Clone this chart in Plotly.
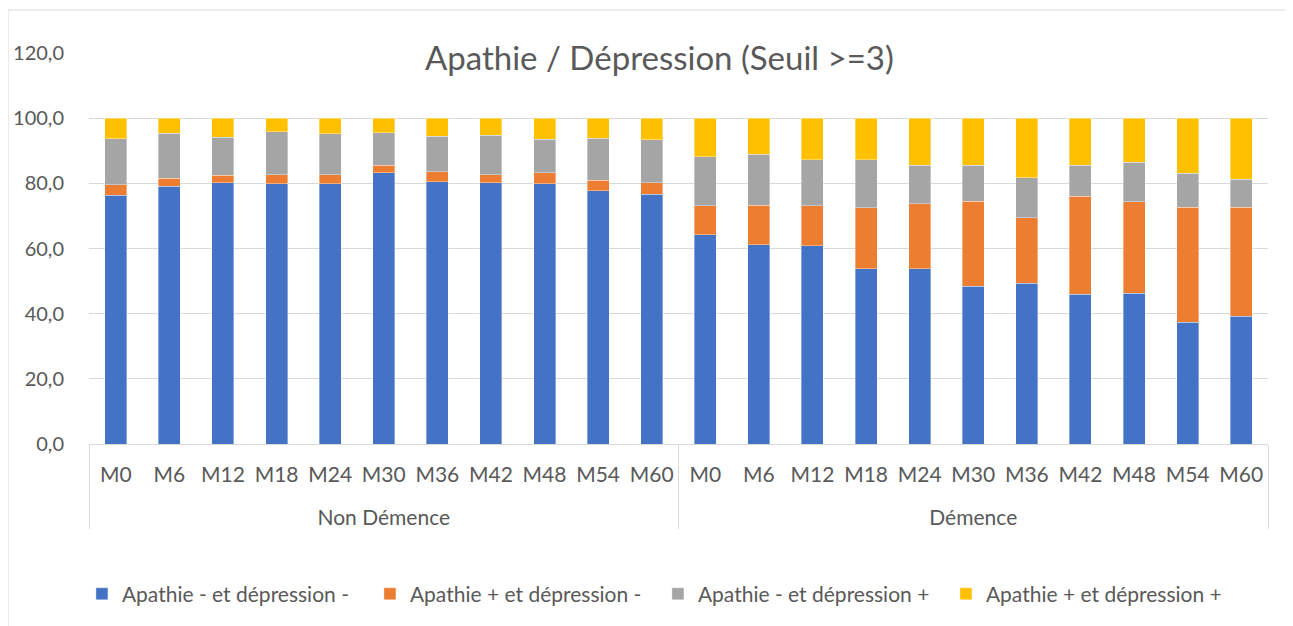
import plotly.graph_objects as go

groups = ["Non Démence"] * 11 + ["Démence"] * 11
months = ["M0", "M6", "M12", "M18", "M24", "M30", "M36", "M42", "M48", "M54", "M60"] * 2

series_names = [
    "Apathie - et dépression -",
    "Apathie + et dépression -",
    "Apathie - et dépression +",
    "Apathie + et dépression +",
]

apa_neg_dep_neg = [76.4, 79.1, 80.2, 79.8, 79.8, 83.2, 80.5, 80.2, 79.9, 77.8, 76.7,
                   64.2, 61.1, 60.8, 53.8, 53.8, 48.4, 49.4, 45.9, 46.2, 37.3, 39.2]
apa_pos_dep_neg = [3.1, 2.5, 2.3, 2.9, 2.9, 2.3, 3.0, 2.5, 3.3, 3.1, 3.5,
                   8.9, 12.2, 12.3, 18.7, 19.9, 26.1, 20.1, 30.2, 28.1, 35.4, 33.5]
apa_neg_dep_pos = [14.2, 13.8, 11.6, 13.2, 12.5, 10.1, 10.9, 12.1, 10.3, 13.0, 13.2,
                   15.0, 15.7, 14.1, 14.8, 11.8, 11.0, 12.2, 9.5, 12.2, 10.4, 8.5]
apa_pos_dep_pos = [6.3, 4.6, 5.9, 4.1, 4.8, 4.4, 5.6, 5.2, 6.5, 6.1, 6.6,
                   11.9, 11.0, 12.8, 12.7, 14.5, 14.5, 18.3, 14.4, 13.5, 16.9, 18.8]

colors = ["#4472C4", "#ED7D31", "#A5A5A5", "#FFC000"]
all_series = [apa_neg_dep_neg, apa_pos_dep_neg, apa_neg_dep_pos, apa_pos_dep_pos]

FONT = "Lato, 'Open Sans', sans-serif"
TXT = "#595959"

group_labels = ["<br>" + g for g in groups]

fig = go.Figure()
for name, vals, col in zip(series_names, all_series, colors):
    fig.add_trace(go.Bar(
        x=[group_labels, months], y=vals, name=name,
        marker=dict(color=col, line=dict(color="rgba(255,255,255,0.6)", width=0.6)),
    ))

fig.update_layout(
    barmode="stack",
    bargap=0.59,
    width=1293, height=626,
    margin=dict(l=81, r=33, t=45, b=190),
    paper_bgcolor="white", plot_bgcolor="white",
    separators=", ",
    font=dict(family=FONT, color=TXT, size=21),
    showlegend=True,
    legend=dict(orientation="h", x=-0.006, xanchor="left", y=-0.384, yanchor="middle",
                font=dict(size=21, color=TXT), entrywidth=243, entrywidthmode="pixels",
                traceorder="normal", itemwidth=30),
    annotations=[dict(text="Apathie / Dépression (Seuil >=3)", xref="paper", yref="paper",
                      x=0.484, y=0.99, xanchor="center", yanchor="middle", showarrow=False,
                      font=dict(size=33, color=TXT, family=FONT))],
    shapes=[dict(type="rect", xref="paper", yref="paper", x0=-0.0687, x1=1.2, y0=-0.6, y1=1.11,
                 line=dict(color="#d9d9d9", width=1), fillcolor="rgba(0,0,0,0)", layer="below")],
)
fig.update_yaxes(range=[0, 120], dtick=20, tickformat=".1f", showgrid=True, gridcolor="#d9d9d9",
                 gridwidth=1, zeroline=False, showline=False, ticks="", ticklabelstandoff=24,
                 automargin=False, tickfont=dict(size=20, color=TXT))
fig.update_xaxes(type="multicategory", showline=True, linecolor="#d9d9d9", showgrid=False,
                 showdividers=True, dividercolor="#d9d9d9", dividerwidth=1,
                 ticklabelstandoff=12, automargin=False,
                 tickfont=dict(size=21, color=TXT))

fig.write_html("out.html")
